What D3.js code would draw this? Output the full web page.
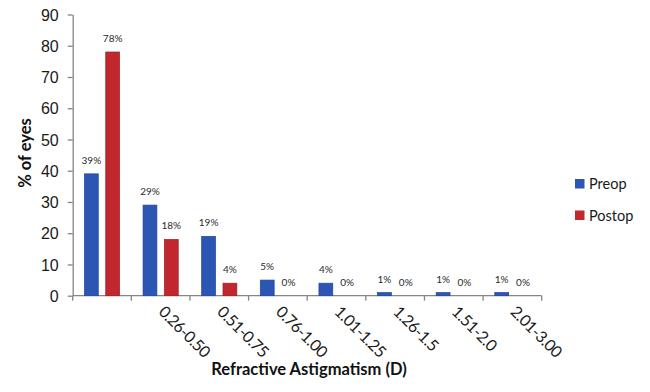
<!DOCTYPE html>
<html>
<head>
<meta charset="utf-8">
<script src="https://cdn.jsdelivr.net/npm/d3@7"></script>
<style>
  body { margin: 0; background: #fff; }
  svg { display: block; font-family: Lato, 'Open Sans', sans-serif; }
  .axis path, .axis line { stroke: #868686; stroke-width: 1.3; }
  .axis text { fill: #1a1a1a; font-size: 16px; }
</style>
</head>
<body>
<svg class="chart" width="650" height="392"></svg>
<script>
// chart data
const categories = ['0-0.25', '0.26-0.50', '0.51-0.75', '0.76-1.00', '1.01-1.25', '1.26-1.5', '1.51-2.0', '2.01-3.00']
const tickLabels = ['', '0.26-0.50', '0.51-0.75', '0.76-1.00', '1.01-1.25', '1.26-1.5', '1.51-2.0', '2.01-3.00']
const series = ['Preop', 'Postop']
const preop = [39, 29, 19, 5, 4, 1, 1, 1]
const postop = [78, 18, 4, 0, 0, 0, 0, 0]
const yTicks = [0, 10, 20, 30, 40, 50, 60, 70, 80, 90]

const colors = { Preop: '#2b56b4', Postop: '#c1272c' }
const strokes = { Preop: '#20469a', Postop: '#9c1f23' }

const svg = d3.select('.chart')

// plot area edges
const plotLeft = 72.7
const plotRight = 541.7
const plotTop = 14.5
const plotBottom = 295.7

const x0 = d3.scaleBand()
    .domain(categories)
    .range([plotLeft, plotRight])
    .padding(0)

const x1 = d3.scaleBand()
    .domain(series)
    .range([0, x0.bandwidth()])
    .paddingInner(0.35)
    .paddingOuter(0.55)

const y = d3.scaleLinear()
    .domain([0, 90])
    .range([plotBottom, plotTop])

// y axis
svg.append('g')
    .attr('class', 'axis')
    .attr('transform', 'translate(' + plotLeft + ',0)')
    .call(d3.axisLeft(y).tickValues(yTicks).tickSize(5).tickSizeOuter(0).tickPadding(9))
  .selectAll('text')
    .attr('dy', '0.35em')

// x axis baseline, ticks at category boundaries
const xAxis = svg.append('g').attr('class', 'axis')
xAxis.append('path')
    .attr('d', 'M' + plotLeft + ',' + y(0) + 'H' + plotRight)
const bounds = categories.map(c => x0(c)).concat([x0.range()[1]])
xAxis.selectAll('line').data(bounds)
  .enter().append('line')
    .attr('x1', d => d)
    .attr('x2', d => d)
    .attr('y1', y(0))
    .attr('y2', y(0) + 5)

// rotated category labels
xAxis.selectAll('text.cat').data(categories)
  .enter().append('text')
    .attr('class', 'cat')
    .text((d, i) => tickLabels[i])
    .attr('font-size', '10.5px')
    .attr('letter-spacing', '-0.5px')
    .attr('text-anchor', 'start')
    .attr('transform', d => 'translate(' + (x0(d) + x0.bandwidth() / 2 - 3) + ',' + (y(0) + 17) + ') rotate(45)')

// bars
const rows = categories.map((c, i) => ({ cat: c, values: [
  { key: 'Preop', value: preop[i] },
  { key: 'Postop', value: postop[i] }
] }))

const groups = svg.append('g').selectAll('g').data(rows)
  .enter().append('g')
    .attr('transform', d => 'translate(' + x0(d.cat) + ',0)')

groups.selectAll('rect').data(d => d.values)
  .enter().append('rect')
    .attr('x', d => x1(d.key))
    .attr('y', d => y(d.value))
    .attr('width', x1.bandwidth())
    .attr('height', d => y(0) - y(d.value))
    .attr('fill', d => colors[d.key])
    .attr('stroke', d => d.value > 0 ? strokes[d.key] : 'none')
    .attr('stroke-width', 0.7)

// value labels
groups.selectAll('text').data(d => d.values)
  .enter().append('text')
    .text(d => d.value + '%')
    .attr('x', d => x1(d.key) + x1.bandwidth() / 2)
    .attr('y', d => y(d.value) - 10)
    .attr('text-anchor', 'middle')
    .attr('font-size', '10px')
    .attr('fill', '#2a2a2a')

// axis titles
svg.append('text')
    .text('% of eyes')
    .attr('transform', 'translate(31,153) rotate(-90)')
    .attr('text-anchor', 'middle')
    .attr('font-weight', 'bold')
    .attr('font-size', '16.5px')
    .attr('fill', '#111')

svg.append('text')
    .text('Refractive Astigmatism (D)')
    .attr('x', 309)
    .attr('y', 375)
    .attr('text-anchor', 'middle')
    .attr('font-weight', 'bold')
    .attr('font-size', '16.5px')
    .attr('fill', '#111')

// legend
const legend = svg.append('g').selectAll('g').data(series)
  .enter().append('g')
    .attr('transform', (d, i) => 'translate(575,' + (179 + i * 31.5) + ')')

legend.append('rect')
    .attr('width', 9.5)
    .attr('height', 9.5)
    .attr('fill', d => colors[d])

legend.append('text')
    .text(d => d)
    .attr('x', 14)
    .attr('y', 5)
    .attr('dy', '0.35em')
    .attr('font-size', '14.5px')
    .attr('fill', '#1a1a1a')
</script>
</body>
</html>
